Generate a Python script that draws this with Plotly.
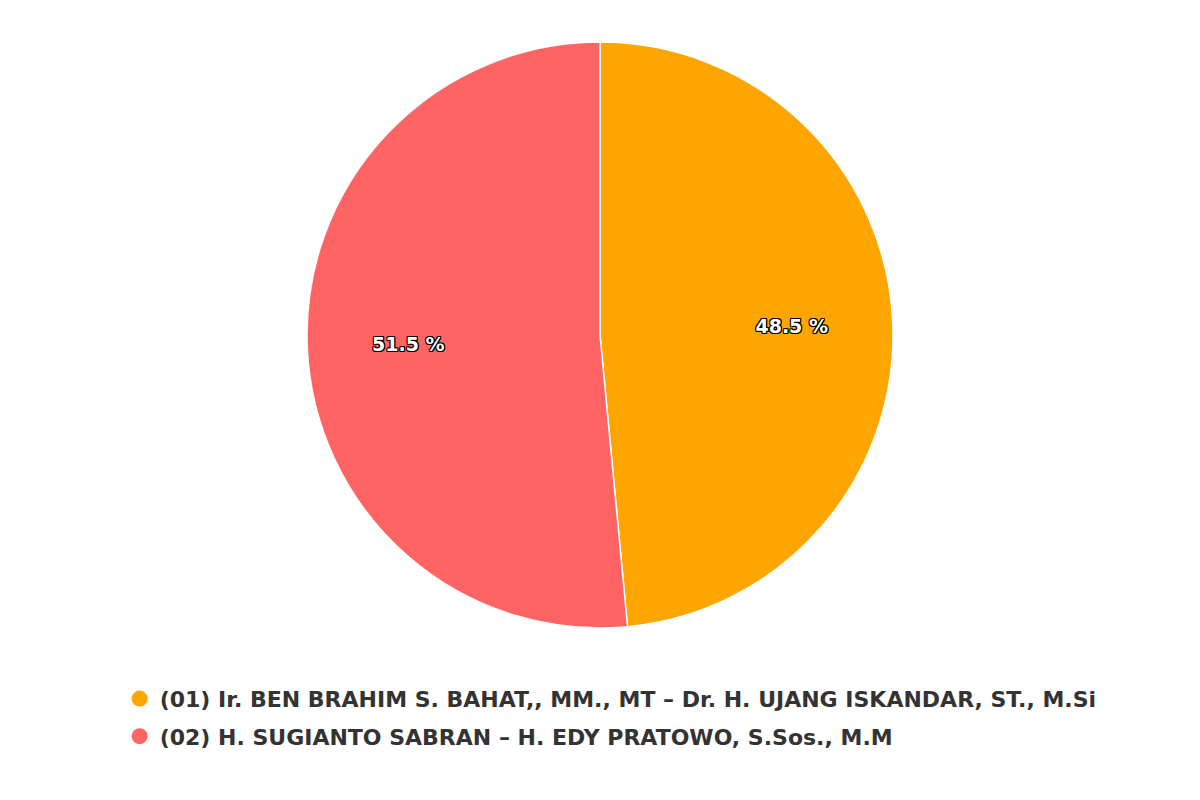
import plotly.graph_objects as go

labels = ["(01) Ir. BEN BRAHIM S. BAHAT,, MM., MT – Dr. H. UJANG ISKANDAR, ST., M.Si",
          "(02) H. SUGIANTO SABRAN – H. EDY PRATOWO, S.Sos., M.M"]
values = [48.5, 51.5]
colors = ["#FFA500", "#FF6464"]

outline = ("-1px -1px 0 #000, 1px -1px 0 #000, -1px 1px 0 #000, 1px 1px 0 #000, "
           "0 1px 0 #000, 0 -1px 0 #000, 1px 0 0 #000, -1px 0 0 #000")

fig = go.Figure()
fig.add_trace(go.Pie(
    labels=labels, values=values, sort=False, direction="clockwise", rotation=0,
    marker=dict(colors=colors, line=dict(color="#FFFFFF", width=1.5)),
    textinfo="none", showlegend=False, hoverinfo="label+percent",
    domain=dict(x=[0, 1], y=[0, 1]),
))
fig.add_trace(go.Pie(
    labels=labels, values=values, sort=False, direction="clockwise", rotation=0,
    hole=0.31,
    marker=dict(colors=["rgba(0,0,0,0)"] * len(values), line=dict(width=0)),
    texttemplate="%{value:.1f} %", textposition="inside", insidetextorientation="horizontal",
    textfont=dict(family="DejaVu Sans", size=19, color="#FFFFFF", weight="bold", shadow=outline),
    showlegend=False, hoverinfo="skip",
    domain=dict(x=[0, 1], y=[0, 1]),
))
for i, (lab, col) in enumerate(zip(labels, colors)):
    fig.add_trace(go.Scatter(x=[None], y=[None], mode="markers", name=lab,
                             legendgroup=f"g{i}",
                             marker=dict(color=col, size=22, symbol="circle"),
                             showlegend=True))

fig.update_layout(
    width=1200, height=800,
    margin=dict(t=34, b=180, l=0, r=16),
    paper_bgcolor="white", plot_bgcolor="white",
    xaxis=dict(visible=False), yaxis=dict(visible=False),
    legend=dict(orientation="v", x=0.509, xanchor="center", y=-0.085, yanchor="top",
                font=dict(family="DejaVu Sans", size=22, color="#333333", weight="bold"),
                itemsizing="trace", tracegroupgap=6),
)
fig.write_html("out.html")
